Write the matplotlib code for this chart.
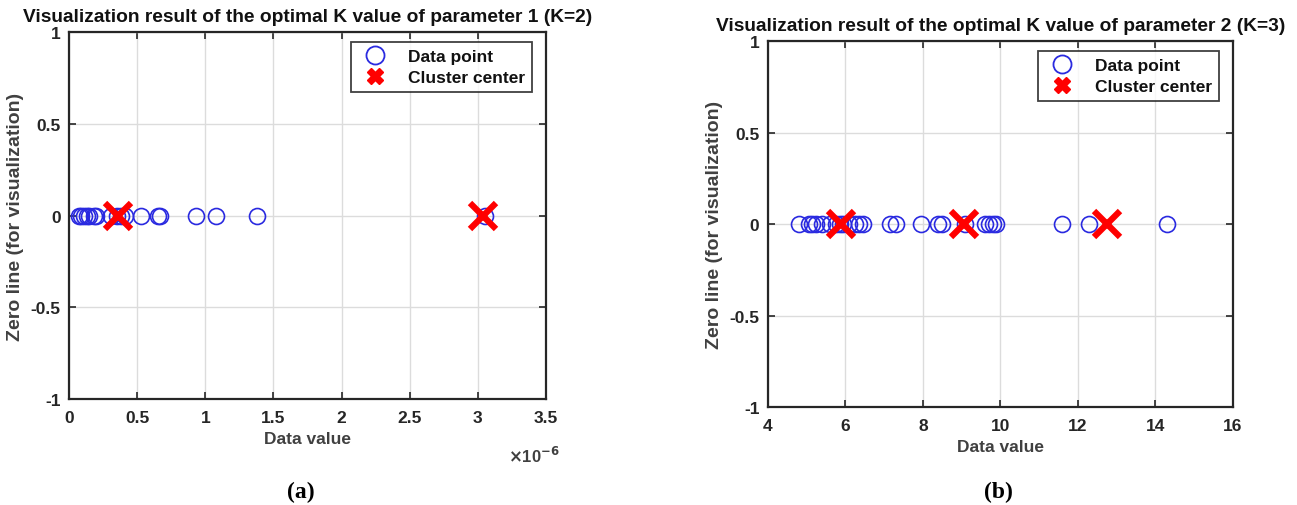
import numpy as np
import matplotlib.pyplot as plt
from matplotlib.lines import Line2D

# =====================
# DATA
# =====================

# parameter 1 (units of 1e-6)
param1_points = [0.07, 0.09, 0.11, 0.13, 0.15, 0.18, 0.20, 0.31, 0.35, 0.38,
                 0.41, 0.53, 0.65, 0.67, 0.93, 1.08, 1.38, 3.05]
param1_centers = [0.36, 3.04]

# parameter 2
param2_points = [4.8, 5.05, 5.15, 5.25, 5.4, 5.6, 5.75, 5.85, 5.95, 6.1, 6.25,
                 6.35, 6.45, 7.15, 7.3, 7.95, 8.4, 8.5, 9.1, 9.6, 9.7, 9.8,
                 9.9, 11.6, 12.3, 14.3]
param2_centers = [5.9, 9.05, 12.75]

titles = ["Visualization result of the optimal K value of parameter 1 (K=2)",
          "Visualization result of the optimal K value of parameter 2 (K=3)"]
panel_tags = ["(a)", "(b)"]

x1_ticks = [0, 0.5, 1, 1.5, 2, 2.5, 3, 3.5]
x2_ticks = [4, 6, 8, 10, 12, 14, 16]
y_ticks = [-1, -0.5, 0, 0.5, 1]

plt.rcParams['font.family'] = ['Liberation Sans', 'DejaVu Sans']
plt.rcParams['font.weight'] = 'bold'

BLUE = '#2a2ae0'
RED = '#ff0000'
DARK = '#262626'
GRAY = '#404040'

fig = plt.figure(figsize=(12.97, 5.06), dpi=100)
ax1 = fig.add_axes([0.0532, 0.2095, 0.3678, 0.725])
ax2 = fig.add_axes([0.592, 0.1937, 0.3585, 0.723])


def style_axes(ax, xticks, xticklabels):
    ax.set_xlim(xticks[0], xticks[-1])
    ax.set_ylim(-1, 1)
    ax.set_xticks(xticks)
    ax.set_xticklabels(xticklabels)
    ax.set_yticks(y_ticks)
    ax.set_yticklabels(['-1', '-0.5', '0', '0.5', '1'])
    ax.grid(True, color='#dcdcdc', linewidth=1.0)
    ax.set_axisbelow(True)
    ax.tick_params(direction='in', top=True, right=True, length=5,
                   width=1.2, colors=DARK, labelsize=12.5, labelcolor=DARK)
    ax.tick_params(axis='x', pad=8)
    ax.tick_params(axis='y', pad=6)
    for s in ax.spines.values():
        s.set_linewidth(1.6)
        s.set_color(DARK)
    ax.set_xlabel("Data value", fontsize=12.5, color=GRAY, fontweight='bold', labelpad=4)
    ax.set_ylabel("Zero line (for visualization)", fontsize=14, color=GRAY,
                  fontweight='bold', labelpad=5)


# panel (a)
p1 = np.array(param1_points) * 1e-6
c1 = np.array(param1_centers) * 1e-6
ax1.plot(p1, np.zeros_like(p1), 'o', ms=11.5, mfc='none', mec=BLUE, mew=1.2)
ax1.plot(c1, np.zeros_like(c1), 'x', ms=19, mec=RED, mew=4.5)
style_axes(ax1, [t * 1e-6 for t in x1_ticks], ['0', '0.5', '1', '1.5', '2', '2.5', '3', '3.5'])
ax1.text(0.5, 1.02, titles[0], transform=ax1.transAxes, ha='center', va='bottom',
         fontsize=13.8, fontweight='bold', color='#111111')
ax1.text(0.975, -0.125, r'$\times$10$^{-6}$', transform=ax1.transAxes, ha='center',
         va='top', fontsize=12, color=GRAY, fontweight='bold')

# panel (b)
p2 = np.array(param2_points)
c2 = np.array(param2_centers)
ax2.plot(p2, np.zeros_like(p2), 'o', ms=11.5, mfc='none', mec=BLUE, mew=1.2)
ax2.plot(c2, np.zeros_like(c2), 'x', ms=19, mec=RED, mew=4.5)
style_axes(ax2, x2_ticks, [str(t) for t in x2_ticks])
ax2.text(0.5, 1.02, titles[1], transform=ax2.transAxes, ha='center', va='bottom',
         fontsize=13.8, fontweight='bold', color='#111111')

handles = [
    Line2D([], [], ls='none', marker='o', ms=13, mfc='none', mec=BLUE, mew=1.3),
    Line2D([], [], ls='none', marker='X', ms=12, mfc=RED, mec=RED),
]
for ax in (ax1, ax2):
    leg = ax.legend(handles, ["Data point", "Cluster center"], loc='upper right',
                    bbox_to_anchor=(0.971, 0.973), fontsize=12.5, frameon=True,
                    fancybox=False, edgecolor='#111111', borderpad=0.4,
                    labelspacing=0.35, handletextpad=0.9, borderaxespad=0)
    leg.get_frame().set_linewidth(1.3)
    for t in leg.get_texts():
        t.set_color('#111111')
        t.set_fontweight('bold')

fig.text(0.232, 0.027, panel_tags[0], ha='center', va='center', fontsize=17,
         fontweight='bold', family='Liberation Serif')
fig.text(0.770, 0.027, panel_tags[1], ha='center', va='center', fontsize=17,
         fontweight='bold', family='Liberation Serif')

fig.savefig("out.png", dpi=100)
